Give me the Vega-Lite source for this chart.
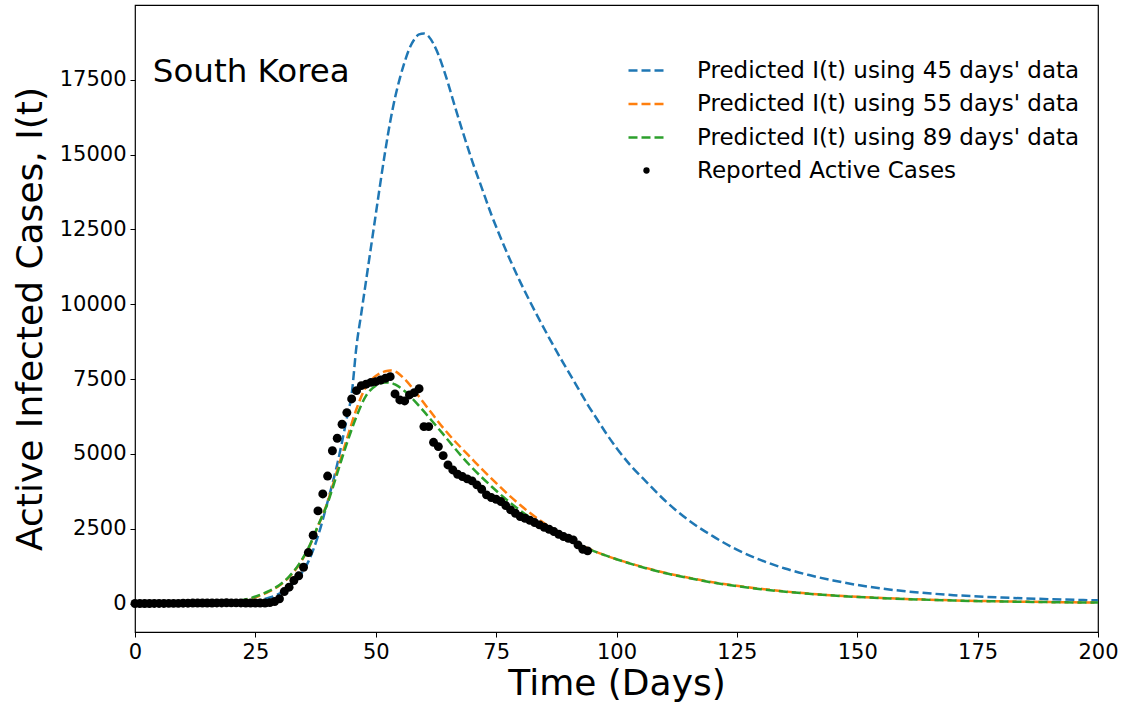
{
  "$schema": "https://vega.github.io/schema/vega-lite/v6.json",
  "width": 963,
  "height": 627,
  "autosize": {"type": "none"},
  "padding": {"left": 135, "top": 5, "right": 26, "bottom": 70},
  "background": "white",
  "config": {
    "font": "DejaVu Sans",
    "view": {"stroke": "black", "strokeWidth": 1.2},
    "axis": {
      "grid": false,
      "domain": false,
      "tickColor": "black",
      "labelColor": "black",
      "titleColor": "black",
      "labelFontSize": 21,
      "titleFontSize": 36,
      "titleFontWeight": "normal",
      "tickSize": 5,
      "tickWidth": 1,
      "labelPadding": 4,
      "labelFlush": false,
      "labelOverlap": false,
      "labelFont": "DejaVu Sans",
      "titleFont": "DejaVu Sans"
    },
    "legend": {"labelFont": "DejaVu Sans", "labelColor": "black"}
  },
  "datasets": {
    "curves": [
      {"day": 0, "I": 0, "series": "Predicted I(t) using 45 days' data"},
      {"day": 5, "I": 1, "series": "Predicted I(t) using 45 days' data"},
      {"day": 10, "I": 3, "series": "Predicted I(t) using 45 days' data"},
      {"day": 15, "I": 8, "series": "Predicted I(t) using 45 days' data"},
      {"day": 18, "I": 15, "series": "Predicted I(t) using 45 days' data"},
      {"day": 20, "I": 25, "series": "Predicted I(t) using 45 days' data"},
      {"day": 22, "I": 40, "series": "Predicted I(t) using 45 days' data"},
      {"day": 24, "I": 70, "series": "Predicted I(t) using 45 days' data"},
      {"day": 26, "I": 120, "series": "Predicted I(t) using 45 days' data"},
      {"day": 28, "I": 200, "series": "Predicted I(t) using 45 days' data"},
      {"day": 30, "I": 330, "series": "Predicted I(t) using 45 days' data"},
      {"day": 32, "I": 540, "series": "Predicted I(t) using 45 days' data"},
      {"day": 34, "I": 880, "series": "Predicted I(t) using 45 days' data"},
      {"day": 36, "I": 1400, "series": "Predicted I(t) using 45 days' data"},
      {"day": 38, "I": 2250, "series": "Predicted I(t) using 45 days' data"},
      {"day": 40, "I": 3400, "series": "Predicted I(t) using 45 days' data"},
      {"day": 41, "I": 4000, "series": "Predicted I(t) using 45 days' data"},
      {"day": 42, "I": 4650, "series": "Predicted I(t) using 45 days' data"},
      {"day": 43, "I": 5400, "series": "Predicted I(t) using 45 days' data"},
      {"day": 44, "I": 6200, "series": "Predicted I(t) using 45 days' data"},
      {"day": 45, "I": 7000, "series": "Predicted I(t) using 45 days' data"},
      {"day": 46, "I": 8600, "series": "Predicted I(t) using 45 days' data"},
      {"day": 47, "I": 9700, "series": "Predicted I(t) using 45 days' data"},
      {"day": 48, "I": 10800, "series": "Predicted I(t) using 45 days' data"},
      {"day": 49, "I": 11900, "series": "Predicted I(t) using 45 days' data"},
      {"day": 50, "I": 13000, "series": "Predicted I(t) using 45 days' data"},
      {"day": 51, "I": 14100, "series": "Predicted I(t) using 45 days' data"},
      {"day": 52, "I": 15150, "series": "Predicted I(t) using 45 days' data"},
      {"day": 53, "I": 16100, "series": "Predicted I(t) using 45 days' data"},
      {"day": 54, "I": 16900, "series": "Predicted I(t) using 45 days' data"},
      {"day": 55, "I": 17550, "series": "Predicted I(t) using 45 days' data"},
      {"day": 56, "I": 18100, "series": "Predicted I(t) using 45 days' data"},
      {"day": 57, "I": 18550, "series": "Predicted I(t) using 45 days' data"},
      {"day": 58, "I": 18850, "series": "Predicted I(t) using 45 days' data"},
      {"day": 59, "I": 19020, "series": "Predicted I(t) using 45 days' data"},
      {"day": 60, "I": 19050, "series": "Predicted I(t) using 45 days' data"},
      {"day": 61, "I": 18950, "series": "Predicted I(t) using 45 days' data"},
      {"day": 62, "I": 18700, "series": "Predicted I(t) using 45 days' data"},
      {"day": 63, "I": 18350, "series": "Predicted I(t) using 45 days' data"},
      {"day": 64, "I": 17900, "series": "Predicted I(t) using 45 days' data"},
      {"day": 65, "I": 17400, "series": "Predicted I(t) using 45 days' data"},
      {"day": 66, "I": 16850, "series": "Predicted I(t) using 45 days' data"},
      {"day": 68, "I": 15800, "series": "Predicted I(t) using 45 days' data"},
      {"day": 70, "I": 14800, "series": "Predicted I(t) using 45 days' data"},
      {"day": 72, "I": 13900, "series": "Predicted I(t) using 45 days' data"},
      {"day": 74, "I": 13000, "series": "Predicted I(t) using 45 days' data"},
      {"day": 76, "I": 12200, "series": "Predicted I(t) using 45 days' data"},
      {"day": 78, "I": 11450, "series": "Predicted I(t) using 45 days' data"},
      {"day": 80, "I": 10750, "series": "Predicted I(t) using 45 days' data"},
      {"day": 82, "I": 10100, "series": "Predicted I(t) using 45 days' data"},
      {"day": 84, "I": 9480, "series": "Predicted I(t) using 45 days' data"},
      {"day": 86, "I": 8880, "series": "Predicted I(t) using 45 days' data"},
      {"day": 88, "I": 8300, "series": "Predicted I(t) using 45 days' data"},
      {"day": 90, "I": 7750, "series": "Predicted I(t) using 45 days' data"},
      {"day": 92, "I": 7200, "series": "Predicted I(t) using 45 days' data"},
      {"day": 94, "I": 6650, "series": "Predicted I(t) using 45 days' data"},
      {"day": 96, "I": 6150, "series": "Predicted I(t) using 45 days' data"},
      {"day": 98, "I": 5650, "series": "Predicted I(t) using 45 days' data"},
      {"day": 100, "I": 5200, "series": "Predicted I(t) using 45 days' data"},
      {"day": 103, "I": 4600, "series": "Predicted I(t) using 45 days' data"},
      {"day": 106, "I": 4100, "series": "Predicted I(t) using 45 days' data"},
      {"day": 110, "I": 3450, "series": "Predicted I(t) using 45 days' data"},
      {"day": 115, "I": 2780, "series": "Predicted I(t) using 45 days' data"},
      {"day": 120, "I": 2250, "series": "Predicted I(t) using 45 days' data"},
      {"day": 125, "I": 1800, "series": "Predicted I(t) using 45 days' data"},
      {"day": 130, "I": 1450, "series": "Predicted I(t) using 45 days' data"},
      {"day": 135, "I": 1170, "series": "Predicted I(t) using 45 days' data"},
      {"day": 140, "I": 950, "series": "Predicted I(t) using 45 days' data"},
      {"day": 145, "I": 770, "series": "Predicted I(t) using 45 days' data"},
      {"day": 150, "I": 620, "series": "Predicted I(t) using 45 days' data"},
      {"day": 155, "I": 500, "series": "Predicted I(t) using 45 days' data"},
      {"day": 160, "I": 410, "series": "Predicted I(t) using 45 days' data"},
      {"day": 170, "I": 280, "series": "Predicted I(t) using 45 days' data"},
      {"day": 180, "I": 200, "series": "Predicted I(t) using 45 days' data"},
      {"day": 190, "I": 145, "series": "Predicted I(t) using 45 days' data"},
      {"day": 200, "I": 105, "series": "Predicted I(t) using 45 days' data"},

      {"day": 0, "I": 0, "series": "Predicted I(t) using 55 days' data"},
      {"day": 10, "I": 3, "series": "Predicted I(t) using 55 days' data"},
      {"day": 15, "I": 10, "series": "Predicted I(t) using 55 days' data"},
      {"day": 18, "I": 25, "series": "Predicted I(t) using 55 days' data"},
      {"day": 20, "I": 45, "series": "Predicted I(t) using 55 days' data"},
      {"day": 22, "I": 85, "series": "Predicted I(t) using 55 days' data"},
      {"day": 24, "I": 160, "series": "Predicted I(t) using 55 days' data"},
      {"day": 26, "I": 270, "series": "Predicted I(t) using 55 days' data"},
      {"day": 28, "I": 410, "series": "Predicted I(t) using 55 days' data"},
      {"day": 30, "I": 600, "series": "Predicted I(t) using 55 days' data"},
      {"day": 32, "I": 880, "series": "Predicted I(t) using 55 days' data"},
      {"day": 34, "I": 1280, "series": "Predicted I(t) using 55 days' data"},
      {"day": 36, "I": 1830, "series": "Predicted I(t) using 55 days' data"},
      {"day": 38, "I": 2580, "series": "Predicted I(t) using 55 days' data"},
      {"day": 40, "I": 3400, "series": "Predicted I(t) using 55 days' data"},
      {"day": 42, "I": 4450, "series": "Predicted I(t) using 55 days' data"},
      {"day": 44, "I": 5500, "series": "Predicted I(t) using 55 days' data"},
      {"day": 46, "I": 6500, "series": "Predicted I(t) using 55 days' data"},
      {"day": 48, "I": 7250, "series": "Predicted I(t) using 55 days' data"},
      {"day": 50, "I": 7600, "series": "Predicted I(t) using 55 days' data"},
      {"day": 52, "I": 7760, "series": "Predicted I(t) using 55 days' data"},
      {"day": 53, "I": 7790, "series": "Predicted I(t) using 55 days' data"},
      {"day": 54, "I": 7760, "series": "Predicted I(t) using 55 days' data"},
      {"day": 56, "I": 7500, "series": "Predicted I(t) using 55 days' data"},
      {"day": 58, "I": 7120, "series": "Predicted I(t) using 55 days' data"},
      {"day": 60, "I": 6700, "series": "Predicted I(t) using 55 days' data"},
      {"day": 62, "I": 6280, "series": "Predicted I(t) using 55 days' data"},
      {"day": 64, "I": 5870, "series": "Predicted I(t) using 55 days' data"},
      {"day": 66, "I": 5500, "series": "Predicted I(t) using 55 days' data"},
      {"day": 68, "I": 5160, "series": "Predicted I(t) using 55 days' data"},
      {"day": 70, "I": 4830, "series": "Predicted I(t) using 55 days' data"},
      {"day": 72, "I": 4500, "series": "Predicted I(t) using 55 days' data"},
      {"day": 74, "I": 4180, "series": "Predicted I(t) using 55 days' data"},
      {"day": 76, "I": 3870, "series": "Predicted I(t) using 55 days' data"},
      {"day": 78, "I": 3570, "series": "Predicted I(t) using 55 days' data"},
      {"day": 80, "I": 3290, "series": "Predicted I(t) using 55 days' data"},
      {"day": 82, "I": 3030, "series": "Predicted I(t) using 55 days' data"},
      {"day": 84, "I": 2790, "series": "Predicted I(t) using 55 days' data"},
      {"day": 86, "I": 2570, "series": "Predicted I(t) using 55 days' data"},
      {"day": 88, "I": 2360, "series": "Predicted I(t) using 55 days' data"},
      {"day": 90, "I": 2170, "series": "Predicted I(t) using 55 days' data"},
      {"day": 92, "I": 2000, "series": "Predicted I(t) using 55 days' data"},
      {"day": 94, "I": 1850, "series": "Predicted I(t) using 55 days' data"},
      {"day": 96, "I": 1710, "series": "Predicted I(t) using 55 days' data"},
      {"day": 98, "I": 1590, "series": "Predicted I(t) using 55 days' data"},
      {"day": 100, "I": 1480, "series": "Predicted I(t) using 55 days' data"},
      {"day": 105, "I": 1240, "series": "Predicted I(t) using 55 days' data"},
      {"day": 110, "I": 1030, "series": "Predicted I(t) using 55 days' data"},
      {"day": 115, "I": 860, "series": "Predicted I(t) using 55 days' data"},
      {"day": 120, "I": 710, "series": "Predicted I(t) using 55 days' data"},
      {"day": 125, "I": 590, "series": "Predicted I(t) using 55 days' data"},
      {"day": 130, "I": 490, "series": "Predicted I(t) using 55 days' data"},
      {"day": 140, "I": 330, "series": "Predicted I(t) using 55 days' data"},
      {"day": 150, "I": 225, "series": "Predicted I(t) using 55 days' data"},
      {"day": 160, "I": 155, "series": "Predicted I(t) using 55 days' data"},
      {"day": 170, "I": 105, "series": "Predicted I(t) using 55 days' data"},
      {"day": 180, "I": 72, "series": "Predicted I(t) using 55 days' data"},
      {"day": 190, "I": 48, "series": "Predicted I(t) using 55 days' data"},
      {"day": 200, "I": 32, "series": "Predicted I(t) using 55 days' data"},

      {"day": 0, "I": 0, "series": "Predicted I(t) using 89 days' data"},
      {"day": 10, "I": 4, "series": "Predicted I(t) using 89 days' data"},
      {"day": 15, "I": 12, "series": "Predicted I(t) using 89 days' data"},
      {"day": 18, "I": 30, "series": "Predicted I(t) using 89 days' data"},
      {"day": 20, "I": 55, "series": "Predicted I(t) using 89 days' data"},
      {"day": 22, "I": 100, "series": "Predicted I(t) using 89 days' data"},
      {"day": 24, "I": 180, "series": "Predicted I(t) using 89 days' data"},
      {"day": 26, "I": 290, "series": "Predicted I(t) using 89 days' data"},
      {"day": 28, "I": 430, "series": "Predicted I(t) using 89 days' data"},
      {"day": 30, "I": 620, "series": "Predicted I(t) using 89 days' data"},
      {"day": 32, "I": 900, "series": "Predicted I(t) using 89 days' data"},
      {"day": 34, "I": 1300, "series": "Predicted I(t) using 89 days' data"},
      {"day": 36, "I": 1850, "series": "Predicted I(t) using 89 days' data"},
      {"day": 38, "I": 2600, "series": "Predicted I(t) using 89 days' data"},
      {"day": 40, "I": 3350, "series": "Predicted I(t) using 89 days' data"},
      {"day": 42, "I": 4350, "series": "Predicted I(t) using 89 days' data"},
      {"day": 44, "I": 5350, "series": "Predicted I(t) using 89 days' data"},
      {"day": 46, "I": 6250, "series": "Predicted I(t) using 89 days' data"},
      {"day": 48, "I": 6950, "series": "Predicted I(t) using 89 days' data"},
      {"day": 50, "I": 7280, "series": "Predicted I(t) using 89 days' data"},
      {"day": 51, "I": 7360, "series": "Predicted I(t) using 89 days' data"},
      {"day": 52, "I": 7390, "series": "Predicted I(t) using 89 days' data"},
      {"day": 53, "I": 7380, "series": "Predicted I(t) using 89 days' data"},
      {"day": 54, "I": 7320, "series": "Predicted I(t) using 89 days' data"},
      {"day": 56, "I": 7100, "series": "Predicted I(t) using 89 days' data"},
      {"day": 58, "I": 6780, "series": "Predicted I(t) using 89 days' data"},
      {"day": 60, "I": 6420, "series": "Predicted I(t) using 89 days' data"},
      {"day": 62, "I": 6040, "series": "Predicted I(t) using 89 days' data"},
      {"day": 64, "I": 5660, "series": "Predicted I(t) using 89 days' data"},
      {"day": 66, "I": 5270, "series": "Predicted I(t) using 89 days' data"},
      {"day": 68, "I": 4890, "series": "Predicted I(t) using 89 days' data"},
      {"day": 70, "I": 4540, "series": "Predicted I(t) using 89 days' data"},
      {"day": 72, "I": 4220, "series": "Predicted I(t) using 89 days' data"},
      {"day": 74, "I": 3920, "series": "Predicted I(t) using 89 days' data"},
      {"day": 76, "I": 3630, "series": "Predicted I(t) using 89 days' data"},
      {"day": 78, "I": 3360, "series": "Predicted I(t) using 89 days' data"},
      {"day": 80, "I": 3110, "series": "Predicted I(t) using 89 days' data"},
      {"day": 82, "I": 2880, "series": "Predicted I(t) using 89 days' data"},
      {"day": 84, "I": 2670, "series": "Predicted I(t) using 89 days' data"},
      {"day": 86, "I": 2470, "series": "Predicted I(t) using 89 days' data"},
      {"day": 88, "I": 2290, "series": "Predicted I(t) using 89 days' data"},
      {"day": 90, "I": 2130, "series": "Predicted I(t) using 89 days' data"},
      {"day": 92, "I": 1980, "series": "Predicted I(t) using 89 days' data"},
      {"day": 94, "I": 1840, "series": "Predicted I(t) using 89 days' data"},
      {"day": 96, "I": 1710, "series": "Predicted I(t) using 89 days' data"},
      {"day": 98, "I": 1590, "series": "Predicted I(t) using 89 days' data"},
      {"day": 100, "I": 1480, "series": "Predicted I(t) using 89 days' data"},
      {"day": 105, "I": 1230, "series": "Predicted I(t) using 89 days' data"},
      {"day": 110, "I": 1020, "series": "Predicted I(t) using 89 days' data"},
      {"day": 115, "I": 850, "series": "Predicted I(t) using 89 days' data"},
      {"day": 120, "I": 700, "series": "Predicted I(t) using 89 days' data"},
      {"day": 125, "I": 580, "series": "Predicted I(t) using 89 days' data"},
      {"day": 130, "I": 480, "series": "Predicted I(t) using 89 days' data"},
      {"day": 140, "I": 325, "series": "Predicted I(t) using 89 days' data"},
      {"day": 150, "I": 220, "series": "Predicted I(t) using 89 days' data"},
      {"day": 160, "I": 150, "series": "Predicted I(t) using 89 days' data"},
      {"day": 170, "I": 100, "series": "Predicted I(t) using 89 days' data"},
      {"day": 180, "I": 68, "series": "Predicted I(t) using 89 days' data"},
      {"day": 190, "I": 46, "series": "Predicted I(t) using 89 days' data"},
      {"day": 200, "I": 30, "series": "Predicted I(t) using 89 days' data"}
    ],
    "reported": [
      {"day": 0, "cases": 1}, {"day": 1, "cases": 1}, {"day": 2, "cases": 1}, {"day": 3, "cases": 1},
      {"day": 4, "cases": 2}, {"day": 5, "cases": 2}, {"day": 6, "cases": 3}, {"day": 7, "cases": 4},
      {"day": 8, "cases": 4}, {"day": 9, "cases": 4}, {"day": 10, "cases": 11}, {"day": 11, "cases": 12},
      {"day": 12, "cases": 15}, {"day": 13, "cases": 15}, {"day": 14, "cases": 16}, {"day": 15, "cases": 16},
      {"day": 16, "cases": 18}, {"day": 17, "cases": 20}, {"day": 18, "cases": 20}, {"day": 19, "cases": 23},
      {"day": 20, "cases": 22}, {"day": 21, "cases": 21}, {"day": 22, "cases": 20}, {"day": 23, "cases": 18},
      {"day": 24, "cases": 17}, {"day": 25, "cases": 16}, {"day": 26, "cases": 15}, {"day": 27, "cases": 17},
      {"day": 28, "cases": 30}, {"day": 29, "cases": 67}, {"day": 30, "cases": 160}, {"day": 31, "cases": 400},
      {"day": 32, "cases": 545}, {"day": 33, "cases": 768}, {"day": 34, "cases": 925}, {"day": 35, "cases": 1213},
      {"day": 36, "cases": 1703}, {"day": 37, "cases": 2282}, {"day": 38, "cases": 3095}, {"day": 39, "cases": 3663},
      {"day": 40, "cases": 4260}, {"day": 41, "cases": 5105}, {"day": 42, "cases": 5522}, {"day": 43, "cases": 5990},
      {"day": 44, "cases": 6380}, {"day": 45, "cases": 6837}, {"day": 46, "cases": 7114}, {"day": 47, "cases": 7281},
      {"day": 48, "cases": 7330}, {"day": 49, "cases": 7391}, {"day": 50, "cases": 7415}, {"day": 51, "cases": 7470},
      {"day": 52, "cases": 7525}, {"day": 53, "cases": 7582}, {"day": 54, "cases": 7004}, {"day": 55, "cases": 6803},
      {"day": 56, "cases": 6770}, {"day": 57, "cases": 6970}, {"day": 58, "cases": 7047}, {"day": 59, "cases": 7180},
      {"day": 60, "cases": 5912}, {"day": 61, "cases": 5912}, {"day": 62, "cases": 5388}, {"day": 63, "cases": 5244},
      {"day": 64, "cases": 4943}, {"day": 65, "cases": 4632}, {"day": 66, "cases": 4465}, {"day": 67, "cases": 4319},
      {"day": 68, "cases": 4242}, {"day": 69, "cases": 4165}, {"day": 70, "cases": 4098}, {"day": 71, "cases": 3965},
      {"day": 72, "cases": 3818}, {"day": 73, "cases": 3631}, {"day": 74, "cases": 3540}, {"day": 75, "cases": 3484},
      {"day": 76, "cases": 3407}, {"day": 77, "cases": 3273}, {"day": 78, "cases": 3130}, {"day": 79, "cases": 3016},
      {"day": 80, "cases": 2906}, {"day": 81, "cases": 2850}, {"day": 82, "cases": 2782}, {"day": 83, "cases": 2705},
      {"day": 84, "cases": 2628}, {"day": 85, "cases": 2549}, {"day": 86, "cases": 2482}, {"day": 87, "cases": 2405},
      {"day": 88, "cases": 2315}, {"day": 89, "cases": 2238}, {"day": 90, "cases": 2182}, {"day": 91, "cases": 2127},
      {"day": 92, "cases": 1960}, {"day": 93, "cases": 1813}, {"day": 94, "cases": 1760}
    ]
  },
  "layer": [
    {
      "data": {"name": "curves"},
      "mark": {"type": "line", "strokeWidth": 2.5, "strokeDash": [9, 4], "interpolate": "monotone", "clip": true},
      "encoding": {
        "x": {
          "field": "day", "type": "quantitative",
          "scale": {"domain": [0, 200], "nice": false, "zero": false},
          "axis": {"values": [0, 25, 50, 75, 100, 125, 150, 175, 200], "format": "d", "title": "Time (Days)", "titleY": 51, "titleBaseline": "middle"}
        },
        "y": {
          "field": "I", "type": "quantitative",
          "scale": {"domain": [-952, 20002], "nice": false, "zero": false},
          "axis": {"values": [0, 2500, 5000, 7500, 10000, 12500, 15000, 17500], "format": "d", "title": "Active Infected Cases, I(t)", "titleX": -105, "titleY": 313.5, "titleAngle": -90, "titleAlign": "center", "titleBaseline": "middle"}
        },
        "color": {
          "field": "series", "type": "nominal",
          "scale": {
            "domain": ["Predicted I(t) using 45 days' data", "Predicted I(t) using 55 days' data", "Predicted I(t) using 89 days' data"],
            "range": ["#1f77b4", "#ff7f0e", "#2ca02c"]
          },
          "legend": {
            "orient": "none", "legendX": 492, "legendY": 45, "title": null, "padding": 0,
            "symbolType": "stroke", "symbolStrokeWidth": 2.5, "symbolDash": [9, 4], "symbolSize": 1444,
            "labelFontSize": 23, "labelOffset": 29, "rowPadding": 0.5, "labelLimit": 600
          }
        }
      }
    },
    {
      "data": {"name": "reported"},
      "mark": {"type": "point", "filled": true, "color": "black", "size": 80, "opacity": 1},
      "encoding": {
        "x": {"field": "day", "type": "quantitative"},
        "y": {"field": "cases", "type": "quantitative"},
        "shape": {
          "datum": "Reported Active Cases", "type": "nominal",
          "scale": {"range": ["circle"]},
          "legend": {
            "orient": "none", "legendX": 500, "legendY": 154, "title": null, "padding": 0,
            "symbolFillColor": "black", "symbolStrokeColor": "black", "symbolSize": 40,
            "labelFontSize": 23, "labelOffset": 39, "labelLimit": 600
          }
        }
      }
    },
    {
      "data": {"values": [{}]},
      "mark": {"type": "text", "fontSize": 32.5, "align": "left", "baseline": "middle", "color": "black", "font": "DejaVu Sans"},
      "encoding": {
        "x": {"datum": 3.7, "type": "quantitative"},
        "y": {"datum": 17770, "type": "quantitative"},
        "text": {"value": "South Korea"}
      }
    }
  ]
}
